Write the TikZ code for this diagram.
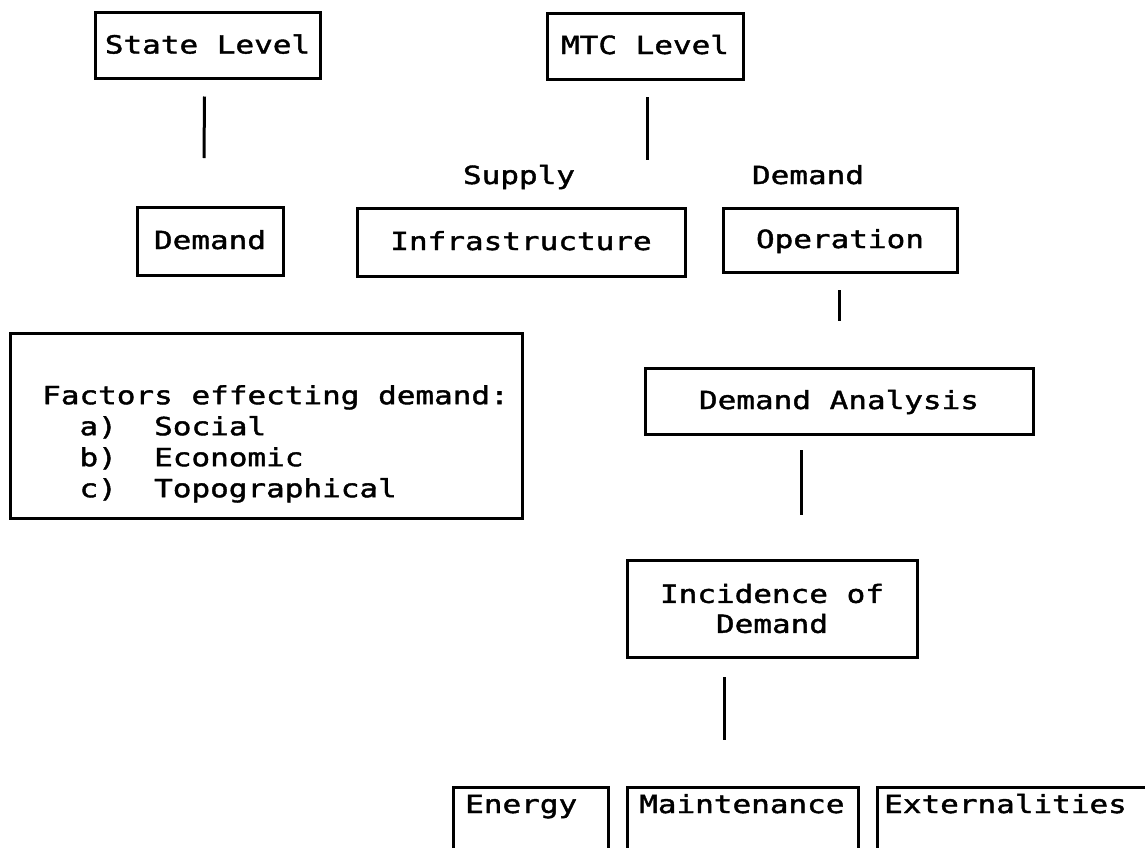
\documentclass[tikz,border=0pt]{standalone}
\usepackage{fontspec}
\newfontfamily\dm[FakeStretch=1.24,FakeBold=1.6,WordSpace={1,0,0}]{DejaVu Sans Mono}
\usetikzlibrary{calc}
\begin{document}
\begin{tikzpicture}[x=1pt,y=-1pt,
  box/.style={draw, line width=3pt, inner sep=0pt, outer sep=0pt},
  txt/.style={inner sep=0pt, font=\dm\fontsize{25}{30}\selectfont},
  one/.style={txt, text height=20pt, text depth=4pt},
  conn/.style={line width=3pt}]
\useasboundingbox (0,0) rectangle (1145,847);
\clip (0,0) rectangle (1145,847);
% top boxes
\node[box,one,minimum width=225,minimum height=66] (state) at (207.5,45.5) {State Level};
\node[box,one,minimum width=196,minimum height=66] (mtc) at (645,46) {MTC Level};
\node[one] (supply) at (519,176) {Supply};
\node[one] (demlab) at (808,176) {Demand};
\node[box,one,minimum width=146,minimum height=68] (dem) at (210,241) {Demand};
\node[box,one,minimum width=328,minimum height=68] (infra) at (521,242) {Infrastructure};
\node[box,one,minimum width=234,minimum height=64] (oper) at (840,240) {Operation};
% factors
\node[box,minimum width=512,minimum height=185] (fac) at (266,425.5) {};
\node[txt,anchor=north west,align=left,font=\dm\fontsize{25}{31}\selectfont] (factxt) at (42,385)
  {Factors effecting demand:\\~~a)~~Social\\~~b)~~Economic\\~~c)~~Topographical};
\node[box,one,minimum width=388,minimum height=66] (da) at (839,401) {Demand Analysis};
\node[box,txt,align=center,minimum width=290,minimum height=97] (inc) at (772,608.5) {Incidence of\\Demand};
% bottom row (cut by the page edge)
\node[box,minimum width=155,minimum height=120] (en) at (530.5,847) {};
\node[box,minimum width=231,minimum height=120] (mt) at (742.5,847) {};
\node[box,minimum width=300,minimum height=120] (ex) at (1027,847) {};
\node[one,anchor=base west] (entx) at ($(en.north west)+(12,26)$) {Energy};
\node[one,anchor=base west] (mttx) at ($(mt.north west)+(12,26)$) {Maintenance};
\node[one,anchor=base west] (extx) at ($(ex.north west)+(7,26)$) {Externalities};
% connectors
\coordinate (mtcend) at (647,160);
\draw[conn] ($(state.south)+(-3,18)$) -- ($(dem.north)+(-6,-49)$);
\draw[conn] ($(mtc.south)+(2,18)$) -- (mtcend);
\draw[conn] ($(oper.south)+(-1,18)$) -- ($(da.north)+(0,-47)$);
\draw[conn] ($(da.south)+(-38,16)$) -- ($(inc.north)+(29,-45)$);
\draw[conn] ($(inc.south)+(-48,20)$) -- ($(mt.north)+(-18.5,-47)$);
\end{tikzpicture}
\end{document}
